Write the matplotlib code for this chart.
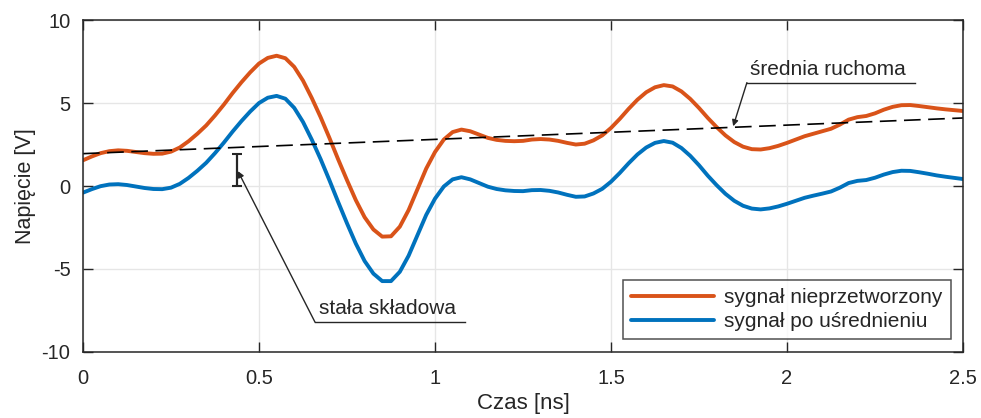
import matplotlib
matplotlib.use("Agg")
import matplotlib.pyplot as plt
import numpy as np

plt.rcParams['font.family'] = ['Liberation Sans', 'DejaVu Sans']
plt.rcParams['axes.unicode_minus'] = False

# czas [ns], probkowanie co 25 ps
t = np.linspace(0, 2.5, 101)

# sygnal surowy [V]
raw = [1.55, 1.78, 1.98, 2.10, 2.15, 2.12, 2.05, 1.98, 1.94, 1.95,
       2.07, 2.32, 2.70, 3.15, 3.65, 4.25, 4.90, 5.60, 6.25, 6.85,
       7.38, 7.72, 7.85, 7.70, 7.18, 6.35, 5.30, 4.15, 2.90, 1.60,
       0.35, -0.85, -1.88, -2.62, -3.05, -3.03, -2.45, -1.45, -0.20, 1.05,
       2.05, 2.80, 3.25, 3.40, 3.30, 3.10, 2.90, 2.78, 2.72, 2.70,
       2.72, 2.80, 2.83, 2.80, 2.72, 2.60, 2.50, 2.55, 2.75, 3.05,
       3.50, 4.05, 4.65, 5.20, 5.65, 5.95, 6.08, 6.00, 5.70, 5.25,
       4.70, 4.10, 3.55, 3.05, 2.65, 2.37, 2.22, 2.20, 2.28, 2.42,
       2.60, 2.80, 3.00, 3.15, 3.30, 3.45, 3.70, 4.00, 4.15, 4.22,
       4.38, 4.60, 4.77, 4.87, 4.88, 4.82, 4.75, 4.68, 4.62, 4.57,
       4.52]

# sygnal po odjeciu sredniej ruchomej [V]
avgd = [-0.40, -0.19, -0.01, 0.09, 0.11, 0.06, -0.03, -0.12, -0.18, -0.19,
        -0.10, 0.13, 0.49, 0.92, 1.40, 1.98, 2.61, 3.28, 3.91, 4.49,
        5.00, 5.32, 5.43, 5.26, 4.71, 3.86, 2.79, 1.62, 0.35, -0.97,
        -2.25, -3.47, -4.52, -5.28, -5.73, -5.73, -5.17, -4.20, -2.97, -1.74,
        -0.76, -0.03, 0.40, 0.53, 0.40, 0.18, -0.04, -0.18, -0.26, -0.30,
        -0.31, -0.25, -0.24, -0.29, -0.39, -0.53, -0.65, -0.63, -0.45, -0.17,
        0.26, 0.79, 1.37, 1.90, 2.32, 2.60, 2.71, 2.61, 2.29, 1.82,
        1.25, 0.62, 0.05, -0.47, -0.89, -1.19, -1.36, -1.41, -1.35, -1.23,
        -1.07, -0.89, -0.71, -0.58, -0.46, -0.33, -0.10, 0.18, 0.31, 0.36,
        0.50, 0.69, 0.84, 0.92, 0.91, 0.83, 0.74, 0.64, 0.56, 0.49,
        0.42]

# srednia ruchoma
t_ma = [0, 0.5, 1.0, 1.5, 2.0, 2.5]
ma = [1.95, 2.38, 2.81, 3.24, 3.67, 4.1]

# skladowa stala
dc_t = 0.4375
dc_lo, dc_hi = 0.0, 1.95

dark = '#262626'
fig = plt.figure(figsize=(9.81, 4.18), dpi=100)
ax = fig.add_axes([0.0846, 0.158, 0.8971, 0.794])

ax.plot(t, raw, color='#D95319', lw=2.8, label='sygnał nieprzetworzony',
        solid_capstyle='round', solid_joinstyle='round')
ax.plot(t, avgd, color='#0072BD', lw=2.8, label='sygnał po uśrednieniu',
        solid_capstyle='round', solid_joinstyle='round')
ax.plot(t_ma, ma, color='black', lw=1.2, dashes=(10, 4.5))

ax.errorbar([dc_t], [(dc_lo + dc_hi) / 2], yerr=[(dc_hi - dc_lo) / 2], color=dark,
            lw=1.6, capsize=3.5, capthick=1.5)

# opis skladowej stalej
ax.plot([0.659, 1.085], [-8.2, -8.2], color=dark, lw=1)
ax.annotate('', xy=(0.44, 0.9), xytext=(0.659, -8.2),
            arrowprops=dict(arrowstyle='-|>', color=dark, lw=1, mutation_scale=9, shrinkA=0, shrinkB=0))
ax.text(0.671, -7.95, 'stała składowa', fontsize=15, color=dark, va='bottom', ha='left')

# opis sredniej ruchomej
ax.plot([1.886, 2.364], [6.23, 6.23], color=dark, lw=1)
ax.annotate('', xy=(1.847, 3.6), xytext=(1.886, 6.23),
            arrowprops=dict(arrowstyle='-|>', color=dark, lw=1, mutation_scale=9, shrinkA=0, shrinkB=0))
ax.text(1.895, 6.45, 'średnia ruchoma', fontsize=15, color=dark, va='bottom', ha='left')

ax.set_xlim(0, 2.5)
ax.set_ylim(-10, 10)
ax.set_xticks([0, 0.5, 1, 1.5, 2, 2.5])
ax.set_xticklabels(['0', '0.5', '1', '1.5', '2', '2.5'])
ax.set_yticks([-10, -5, 0, 5, 10])
ax.grid(True, color='#e6e6e6', lw=1)
ax.set_axisbelow(True)
for s in ax.spines.values():
    s.set_color(dark)
    s.set_linewidth(1.1)
ax.tick_params(direction='in', length=7, width=1, colors=dark, labelsize=14.5,
               top=True, right=True)
ax.tick_params(axis='x', pad=12)
ax.tick_params(axis='y', pad=9)
ax.set_xlabel('Czas [ns]', fontsize=16, color=dark, labelpad=4)
ax.set_ylabel('Napięcie [V]', fontsize=15.5, color=dark, labelpad=4)

leg = ax.legend(loc='lower right', fontsize=15, frameon=True, fancybox=False,
                handlelength=4.0, handletextpad=0.45, borderaxespad=0.6,
                labelspacing=0.25, borderpad=0.4)
leg.get_frame().set_edgecolor(dark)
leg.get_frame().set_linewidth(1.1)
for txt in leg.get_texts():
    txt.set_color(dark)

fig.savefig('out.png', dpi=100)
